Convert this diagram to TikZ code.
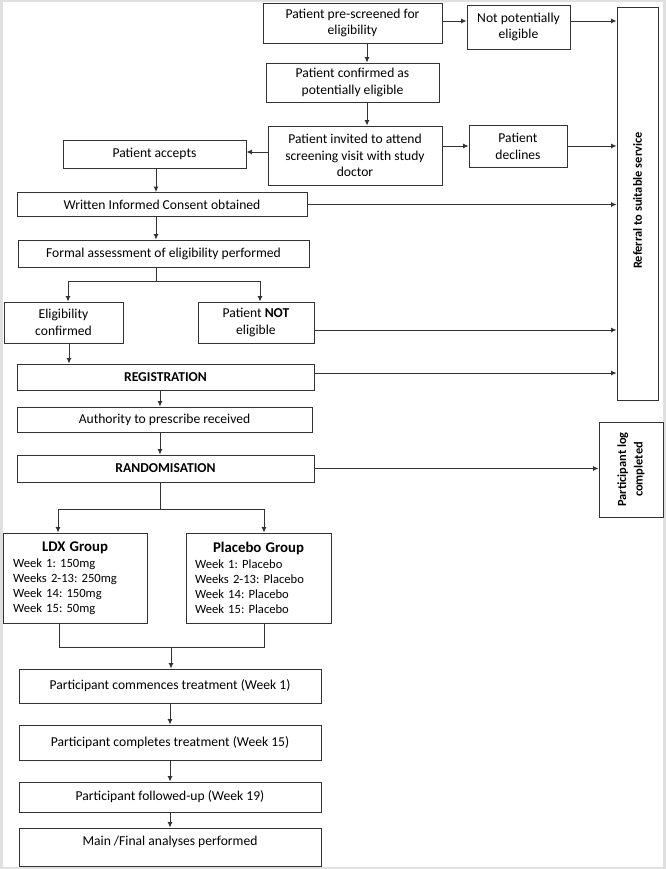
\documentclass[tikz,border=0pt]{standalone}
\usepackage{fontspec}
\setmainfont{Carlito}
\frenchspacing
\usetikzlibrary{arrows.meta,calc}
\begin{document}
\begin{tikzpicture}[x=1pt,y=-1pt,
  box/.style={draw=black!80, line width=0.9pt, inner sep=0pt, align=center,
    font=\fontsize{13.6}{16.7}\selectfont, text=black},
  grp/.style={draw=black!80, line width=0.9pt, inner sep=0pt, align=left,
    font=\fontsize{12.6}{15}\selectfont, text=black},
  rtext/.style={rotate=90, align=center, font=\bfseries\fontsize{12.4}{16.7}\selectfont, text=black},
  arr/.style={draw=black!80, line width=0.9pt, -{Latex[length=5.5pt,width=5pt]}},
  ln/.style={draw=black!80, line width=0.9pt}]
% frame
\fill[black!12] (0,0) rectangle (666,869);
\fill[white] (3,2.5) rectangle (663,866.5);
\useasboundingbox (0,0) rectangle (666,869);
% nodes
\node[box, minimum width=179pt, minimum height=40pt] (pre) at (352.5,23) {Patient pre-screened for\\eligibility};
\node[box, minimum width=103pt, minimum height=44pt] (notpot) at (518.5,27) {Not potentially\\eligible};
\node[box, minimum width=173pt, minimum height=39pt] (conf) at (352.5,82.5) {Patient confirmed as\\potentially eligible};
\node[box, minimum width=174pt, minimum height=59pt] (inv) at (355,155.5) {Patient invited to attend\\screening visit with study\\doctor};
\node[box, minimum width=98pt, minimum height=42pt] (decl) at (518,146) {Patient\\declines};
\node[box, minimum width=183pt, minimum height=28pt] (acc) at (154.5,154) {Patient accepts};
\node[box, minimum width=290pt, minimum height=24pt] (cons) at (162,204.5) {Written Informed Consent obtained};
\node[box, minimum width=291pt, minimum height=27pt] (formal) at (163.5,253.5) {Formal assessment of eligibility performed};
\node[box, minimum width=119pt, minimum height=41pt] (elig) at (63.5,322.5) {Eligibility\\confirmed};
\node[box, minimum width=116pt, minimum height=41pt] (notel) at (256,322.5) {Patient \textbf{NOT}\\eligible};
\node[box, minimum width=297pt, minimum height=26pt] (reg) at (165.5,377) {\textbf{REGISTRATION}};
\node[box, minimum width=295pt, minimum height=25pt] (auth) at (164.5,419.5) {Authority to prescribe received};
\node[box, minimum width=297pt, minimum height=27pt] (rand) at (165.5,468.5) {\textbf{RANDOMISATION}};
\node[grp, minimum width=144pt, minimum height=90pt, text width=124pt] (ldx) at (75,578)
  {\makebox[124pt][c]{\bfseries\fontsize{14.8}{17}\selectfont LDX Group}\\[1pt]
   Week 1: 150mg\\Weeks 2-13: 250mg\\Week 14: 150mg\\Week 15: 50mg};
\node[grp, minimum width=145pt, minimum height=90pt, text width=127pt] (plc) at (258.5,578)
  {\makebox[127pt][c]{\bfseries\fontsize{14.8}{17}\selectfont Placebo Group}\\[1pt]
   Week 1: Placebo\\Weeks 2-13: Placebo\\Week 14: Placebo\\Week 15: Placebo};
\node[box, minimum width=302pt, minimum height=34pt] (comm) at (170,686) {Participant commences treatment (Week 1)};
\node[box, minimum width=302pt, minimum height=35pt] (compl) at (170,742.5) {Participant completes treatment (Week 15)};
\node[box, minimum width=302pt, minimum height=30pt] (fol) at (170,797) {Participant followed-up (Week 19)};
\node[box, minimum width=302pt, minimum height=38pt] (fin) at (170,847) {};
\node[box, draw=none] (fintext) at (170,842) {Main /Final analyses performed};
\node[box, minimum width=41pt, minimum height=393pt] (ref) at (637.5,203.5) {};
\node[rtext] (reftext) at ([yshift=3pt]ref.center) {Referral to suitable service};
\node[box, minimum width=64pt, minimum height=95pt] (plog) at (631,469.5) {};
\node[rtext] (plogtext) at (plog.center) {Participant log\\completed};
% coordinates
\coordinate (s1) at (156,281);
\coordinate (s2) at (160,509);
\coordinate (m) at (171,647);
% connectors
\draw[arr] ([yshift=2pt]pre.east) -- ([yshift=2pt]pre.east -| notpot.west);
\draw[arr] ([yshift=6pt]notpot.east) -- ([yshift=6pt]notpot.east -| ref.west);
\draw[arr] ([xshift=14.5pt]pre.south) -- ([xshift=14.5pt]pre.south |- conf.north);
\draw[arr] ([xshift=14.5pt]conf.south) -- ([xshift=14.5pt]conf.south |- inv.north);
\draw[arr] ([yshift=3.5pt]inv.west) -- ([yshift=3.5pt]inv.west -| acc.east);
\draw[arr] (inv.east |- decl.west) -- (decl.west);
\draw[arr] (decl.east) -- (decl.east -| ref.west);
\draw[arr] ([xshift=1.5pt]acc.south) -- ([xshift=1.5pt]acc.south |- cons.north);
\draw[arr] (cons.east) -- (cons.east -| ref.west);
\draw[arr] (s1 |- cons.south) -- (s1 |- formal.north);
\draw[ln] (s1 |- formal.south) -- (s1);
\draw[arr] (s1) -| ([xshift=4.5pt]elig.north);
\draw[arr] (s1) -| ([xshift=4pt]notel.north);
\draw[arr] ([yshift=-7.5pt]notel.east) -- ([yshift=-7.5pt]notel.east -| ref.west);
\draw[arr] ([xshift=5.5pt]elig.south) -- ([xshift=5.5pt]elig.south |- reg.north);
\draw[arr] ([yshift=4pt]reg.east) -- ([yshift=4pt]reg.east -| ref.west);
\draw[arr] (s2 |- reg.south) -- (s2 |- auth.north);
\draw[arr] (s2 |- auth.south) -- (s2 |- rand.north);
\draw[arr] (rand.east) -- (rand.east -| plog.west);
\draw[ln] (s2 |- rand.south) -- (s2);
\draw[arr] (s2) -| ([xshift=-17pt]ldx.north);
\draw[arr] (s2) -| ([xshift=5.5pt]plc.north);
\draw[ln] ([xshift=-16pt]ldx.south) |- (m);
\draw[ln] ([xshift=5.5pt]plc.south) |- (m);
\draw[arr] (m) -- (m |- comm.north);
\draw[arr] (comm.south) -- (compl.north);
\draw[arr] (compl.south) -- (fol.north);
\draw[arr] (fol.south) -- (fin.north);
\end{tikzpicture}
\end{document}
